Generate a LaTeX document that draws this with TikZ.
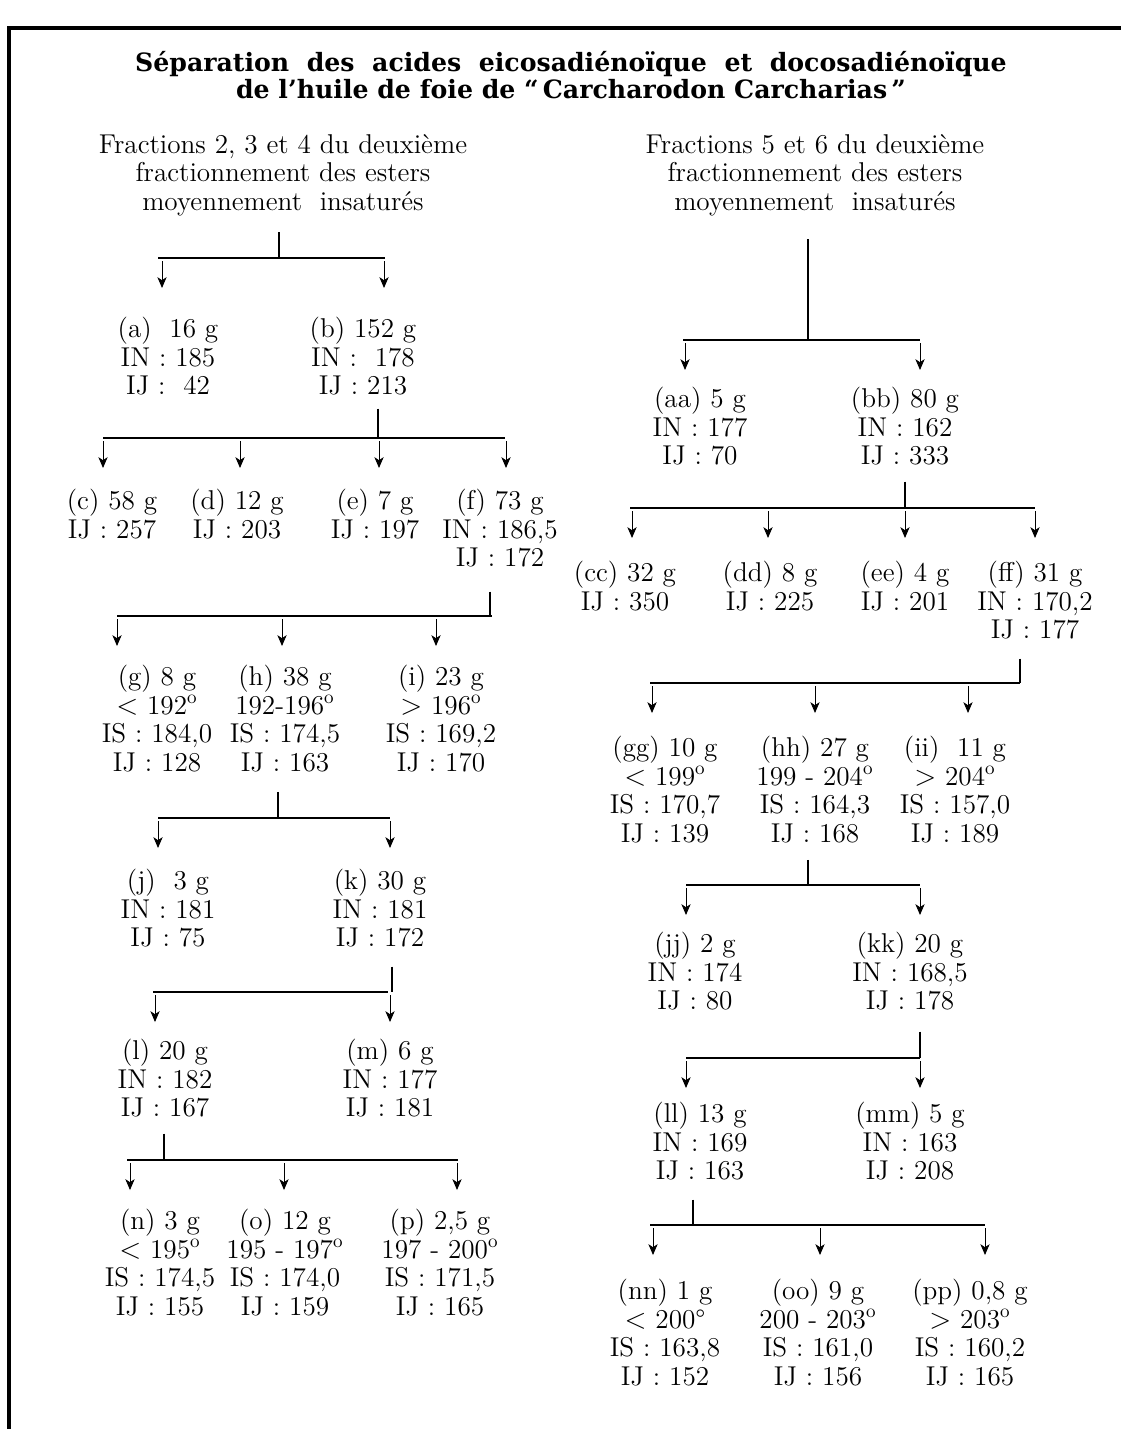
\documentclass[tikz,border=0pt]{standalone}
\usepackage{fontspec}
\newfontfamily\titrefont{DejaVu Serif}
\usetikzlibrary{arrows.meta, positioning}

\tikzset{
	frac/.style={align=center, inner sep=0pt, anchor=north,
		font=\fontsize{13.6}{14.2}\selectfont},
	barre/.style={line width=1pt},
	tige/.style={line width=0.75pt},
	fleche/.style={line width=0.45pt, shorten <=1.5pt,
		-{Stealth[length=5.4pt, width=4.6pt, inset=1.5pt]}},
}
\newcommand{\degr}{\textsuperscript{o}}

\begin{document}
\begin{tikzpicture}[x=0.5pt, y=-0.5pt]
	\useasboundingbox (0,0) rectangle (1121,1429);
	% cadre
	\draw[line width=1.6pt] (9,1429) -- (9,28) -- (1121,28);

	% titre
	\node[align=center, inner sep=0pt, font=\titrefont\bfseries\fontsize{12.6}{13.2}\selectfont]
		(titre) at (571,75)
		{Séparation\ \ des\ \ acides\ \ eicosadiénoïque\ \ et\ \ docosadiénoïque\\
		 de l’huile de foie de “\,Carcharodon Carcharias\,”};

	% en-tetes
	\node[frac] (gauche) at (283,134) {Fractions 2, 3 et 4 du deuxi\`eme\\
		fractionnement des esters\\moyennement\ \ insatur\'es};
	\node[frac] (droite) at (815,134) {Fractions 5 et 6 du deuxi\`eme\\
		fractionnement des esters\\moyennement\ \ insatur\'es};

	% fractions (colonne de gauche)
	\node[frac] (a) at (168,317) {(a)\ \ 16 g\\IN : 185\\IJ :\ \ 42};
	\node[frac] (b) at (363,317) {(b)\ 152 g\\IN\ :\ \ 178\\IJ :\ 213};
	\node[frac] (c) at (112,489) {(c)\ 58 g\\IJ : 257};
	\node[frac] (d) at (237,489) {(d) 12 g\\IJ : 203};
	\node[frac] (e) at (375,489) {(e) 7 g\\IJ\ : 197};
	\node[frac] (f) at (500,489) {(f) 73 g\\IN : 186,5\\IJ\ : 172};
	\node[frac] (g) at (157,665) {(g)\ 8 g\\$<$ 192\degr\\IS : 184,0\\IJ : 128};
	\node[frac] (h) at (285,665) {(h)\ 38 g\\192-196\degr\\IS : 174,5\\IJ : 163};
	\node[frac] (i) at (441,665) {(i)\ 23 g\\$>$ 196\degr\\IS : 169,2\\IJ : 170};
	\node[frac] (j) at (168,869) {(j)\ \ 3 g\\IN : 181\\IJ : 75};
	\node[frac] (k) at (380,869) {(k) 30 g\\IN : 181\\IJ : 172};
	\node[frac] (l) at (165,1039) {(l) 20 g\\IN : 182\\IJ : 167};
	\node[frac] (m) at (390,1039) {(m)\ 6 g\\IN : 177\\IJ : 181};
	\node[frac] (n) at (160,1209) {(n) 3 g\\$<$ 195\degr\\IS : 174,5\\IJ : 155};
	\node[frac] (o) at (285,1209) {(o) 12 g\\195 - 197\degr\\IS : 174,0\\IJ : 159};
	\node[frac] (p) at (440,1209) {(p)\ 2,5 g\\197 - 200\degr\\IS : 171,5\\IJ : 165};

	% fractions (colonne de droite)
	\node[frac] (aa) at (700,387) {(aa) 5 g\\IN\ :\ 177\\IJ : 70};
	\node[frac] (bb) at (905,387) {(bb) 80 g\\IN\ :\ 162\\IJ : 333};
	\node[frac] (cc) at (625,561) {(cc) 32 g\\IJ : 350};
	\node[frac] (dd) at (770,561) {(dd) 8 g\\IJ\ : 225};
	\node[frac] (ee) at (905,561) {(ee) 4 g\\IJ\ : 201};
	\node[frac] (ff) at (1035,561) {(ff) 31 g\\IN : 170,2\\IJ\ : 177};
	\node[frac] (gg) at (665,736) {(gg) 10 g\\$<$\ 199\degr\\IS : 170,7\\IJ : 139};
	\node[frac] (hh) at (815,736) {(hh) 27 g\\199 - 204\degr\\IS : 164,3\\IJ\ : 168};
	\node[frac] (ii) at (955,736) {(ii)\ \ 11 g\\$>$\ 204\degr\\IS : 157,0\\IJ\ : 189};
	\node[frac] (jj) at (695,932) {(jj) 2 g\\IN : 174\\IJ\ : 80};
	\node[frac] (kk) at (910,932) {(kk) 20 g\\IN : 168,5\\IJ : 178};
	\node[frac] (ll) at (700,1102) {(ll)\ 13 g\\IN : 169\\IJ : 163};
	\node[frac] (mm) at (910,1102) {(mm) 5 g\\IN : 163\\IJ : 208};
	\node[frac] (nn) at (665,1279) {(nn)\ 1 g\\$<$ 200\textdegree\\IS : 163,8\\IJ : 152};
	\node[frac] (oo) at (818,1279) {(oo)\ 9 g\\200 - 203\degr\\IS : 161,0\\IJ : 156};
	\node[frac] (pp) at (970,1279) {(pp) 0,8 g\\$>$ 203\degr\\IS : 160,2\\IJ : 165};

	% separations a gauche
	\coordinate (s1) at (279,258);
	\draw[tige, shorten <=8pt] (gauche.south -| s1) -- (s1);
	\draw[barre] (158,258) -- (385,258);
	\foreach \x/\n in {162/a, 384/b}
		\draw[fleche, shorten >=14.5pt] (\x,0 |- s1) -- (\n.north -| \x,0);

	\coordinate (s2) at (378,438);
	\draw[tige, shorten <=6.5pt] (b.south -| s2) -- (s2);
	\draw[barre] (103,438) -- (505,438);
	\foreach \x/\n in {103/c, 240/d, 379/e, 506/f}
		\draw[fleche, shorten >=10.5pt] (\x,0 |- s2) -- (\n.north -| \x,0);

	\coordinate (s3) at (490,616);
	\draw[tige, shorten <=12pt] (f.south -| s3) -- (s3);
	\draw[barre] (117,616) -- (492,616);
	\foreach \x/\n in {117/g, 282/h, 436/i}
		\draw[fleche, shorten >=9.5pt] (\x,0 |- s3) -- (\n.north -| \x,0);

	\coordinate (s4) at (278,818);
	\draw[tige, shorten <=10pt] (h.south -| s4) -- (s4);
	\draw[barre] (158,818) -- (390,818);
	\foreach \x/\n in {158/j, 390/k}
		\draw[fleche, shorten >=10.5pt] (\x,0 |- s4) -- (\n.north -| \x,0);

	\coordinate (s5) at (392,992);
	\draw[tige, shorten <=9.5pt] (k.south -| s5) -- (s5);
	\draw[barre] (153,992) -- (388,992);
	\foreach \x/\n in {155/l, 390/m}
		\draw[fleche, shorten >=8.5pt] (\x,0 |- s5) -- (\n.north -| \x,0);

	\coordinate (s6) at (164,1160);
	\draw[tige, shorten <=8pt] (l.south -| s6) -- (s6);
	\draw[barre] (127,1160) -- (458,1160);
	\foreach \x/\n in {130/n, 284/o, 457/p}
		\draw[fleche, shorten >=9.5pt] (\x,0 |- s6) -- (\n.north -| \x,0);

	% separations a droite
	\coordinate (t1) at (808,340);
	\draw[tige, shorten <=11.5pt] (droite.south -| t1) -- (t1);
	\draw[barre] (683,340) -- (920,340);
	\foreach \x/\n in {685/aa, 920/bb}
		\draw[fleche, shorten >=8.5pt] (\x,0 |- t1) -- (\n.north -| \x,0);

	\coordinate (t2) at (905,508);
	\draw[tige, shorten <=8pt] (bb.south -| t2) -- (t2);
	\draw[barre] (630,508) -- (1035,508);
	\foreach \x/\n in {632/cc, 768/dd, 905/ee, 1035/ff}
		\draw[fleche, shorten >=11.5pt] (\x,0 |- t2) -- (\n.north -| \x,0);

	\coordinate (t3) at (1020,683);
	\draw[tige, shorten <=9.5pt] (ff.south -| t3) -- (t3);
	\draw[barre] (650,683) -- (1020,683);
	\foreach \x/\n in {652/gg, 815/hh, 968/ii}
		\draw[fleche, shorten >=11.5pt] (\x,0 |- t3) -- (\n.north -| \x,0);

	\coordinate (t4) at (808,885);
	\draw[tige, shorten <=8.5pt] (hh.south -| t4) -- (t4);
	\draw[barre, line width=1.4pt] (686,885) -- (920,885);
	\foreach \x/\n in {686/jj, 920/kk}
		\draw[fleche, shorten >=8.5pt] (\x,0 |- t4) -- (\n.north -| \x,0);

	\coordinate (t5) at (920,1058);
	\draw[tige, shorten <=10.5pt] (kk.south -| t5) -- (t5);
	\draw[barre] (686,1058) -- (920,1058);
	\foreach \x/\n in {686/ll, 920/mm}
		\draw[fleche, shorten >=7pt] (\x,0 |- t5) -- (\n.north -| \x,0);

	\coordinate (t6) at (693,1225);
	\draw[tige, shorten <=9.5pt] (ll.south -| t6) -- (t6);
	\draw[barre] (650,1225) -- (985,1225);
	\foreach \x/\n in {653/nn, 820/oo, 985/pp}
		\draw[fleche, shorten >=12pt] (\x,0 |- t6) -- (\n.north -| \x,0);
\end{tikzpicture}
\end{document}
